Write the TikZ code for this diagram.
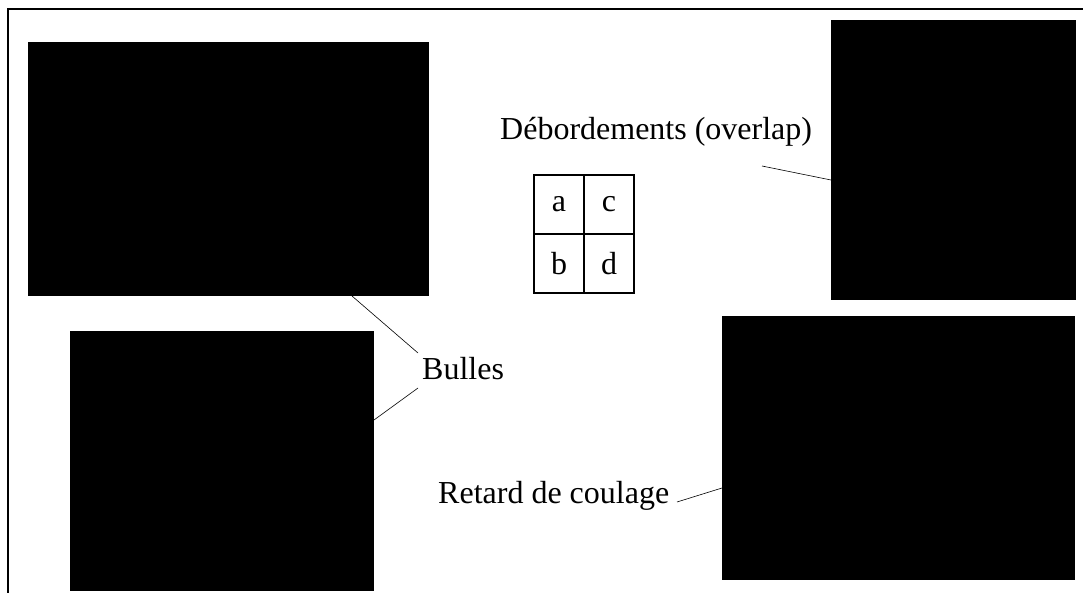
\documentclass[tikz,border=0pt]{standalone}
\usepackage{fontspec}
\setmainfont{Liberation Serif}
\usetikzlibrary{positioning}

\begin{document}
\begin{tikzpicture}[x=1pt, y=-1pt,
    photo/.style={rectangle, fill=black, inner sep=0, outer sep=0, anchor=north west},
    cell/.style={rectangle, draw, line width=2.6pt, inner sep=0, outer sep=0,
        minimum width=50pt, minimum height=59pt, font=\fontsize{32}{38}\selectfont},
    lbl/.style={inner sep=3pt, anchor=base west, font=\fontsize{32}{38}\selectfont},
    lead/.style={line width=0.6pt}]
    \useasboundingbox (0,0) rectangle (1083,593);
    % Frame
    \draw[line width=1.5pt] (1090,9) -- (8,9) -- (8,600);
    % Photos
    \node[photo, minimum width=401pt, minimum height=254pt] (photoBA) at (28,42) {};
    \node[photo, minimum width=304pt, minimum height=260pt] (photoBB) at (70,331) {};
    \node[photo, minimum width=245pt, minimum height=280pt] (photoDe) at (831,20) {};
    \node[photo, minimum width=353pt, minimum height=264pt] (photoRe) at (722,316) {};
    % Grid
    \node[cell, anchor=north west] (ca) at (534,175) {a};
    \node[cell, right=0pt of ca] (cc) {c};
    \node[cell, below=0pt of ca] (cb) {b};
    \node[cell, right=0pt of cb] (cd) {d};
    % Labels
    \node[lbl] (bulles) at (419,379) {Bulles};
    \node[lbl] (debord) at (497,140) {Débordements (overlap)};
    \node[lbl] (retard) at (435,503) {Retard de coulage};
    % Leader ends
    \coordinate (bulA) at (418,353);
    \coordinate (bulB) at (418,388);
    \coordinate (debA) at (762,166);
    \coordinate (retA) at (677,502);
    % Leaders
    \draw[lead] (bulA) -- ([xshift=324pt]photoBA.south west);
    \draw[lead] (bulB) -- ([yshift=-89pt]photoBB.north east);
    \draw[lead] (debA) -- ([yshift=-160pt]photoDe.north west);
    \draw[lead] (retA) -- ([yshift=-172pt]photoRe.north west);
\end{tikzpicture}
\end{document}
